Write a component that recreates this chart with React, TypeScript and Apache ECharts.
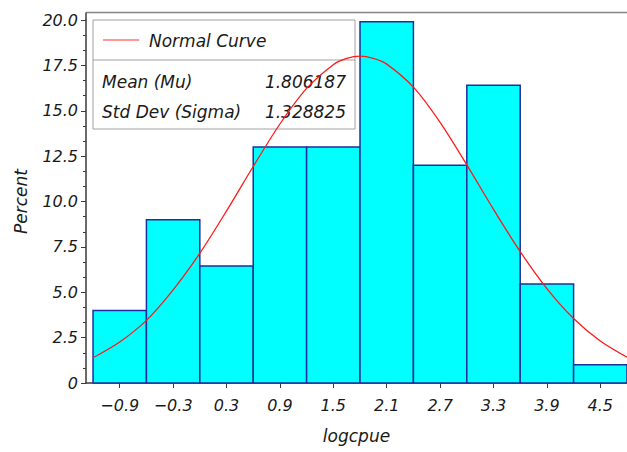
import React, { useEffect, useRef } from "react";
import * as echarts from "echarts";

// Histogram bins (midpoints) and percentages
const binMidpoints = [-0.9, -0.3, 0.3, 0.9, 1.5, 2.1, 2.7, 3.3, 3.9, 4.5];
const binPercents = [4.0, 9.0, 6.45, 13.0, 13.0, 19.9, 12.0, 16.4, 5.45, 1.0];
const binWidth = 0.6;

// Normal curve points
const curveX = [-1.2, -0.9, -0.6, -0.3, 0.0, 0.3, 0.6, 0.9, 1.2, 1.5, 1.65, 1.8, 1.95, 2.1, 2.4, 2.7, 3.0, 3.3, 3.6, 3.9, 4.2, 4.5, 4.8];
const curveY = [1.39, 2.26, 3.45, 5.13, 7.15, 9.48, 11.93, 14.27, 16.23, 17.54, 17.88, 18.01, 17.89, 17.57, 16.3, 14.36, 12.02, 9.57, 7.24, 5.2, 3.55, 2.31, 1.42];

// Tick labels
const xTickValues = [-0.9, -0.3, 0.3, 0.9, 1.5, 2.1, 2.7, 3.3, 3.9, 4.5];
const yTickValues = [0, 2.5, 5, 7.5, 10, 12.5, 15, 17.5, 20];

const legendLabel = "Normal Curve";
const statNames = ["Mean (Mu)", "Std Dev (Sigma)"];
const statValues = ["1.806187", "1.328825"];

const FONT = "DejaVu Sans";
const TEXT = "#1a1a1a";
const AXIS = "#3a3a3a";

export default function App() {
  const ref = useRef<HTMLDivElement>(null);

  useEffect(() => {
    if (!ref.current) return;
    const chart = echarts.init(ref.current, null, { renderer: "svg" });
    const half = binWidth / 2;
    const histData = binMidpoints.map((m, i) => [m, binPercents[i]]);
    const curveData = curveX.map((x, i) => [x, curveY[i]]);

    const option: any = {
      animation: false,
      backgroundColor: "#ffffff",
      grid: { left: 86, right: 0, top: 20, bottom: 69, containLabel: false },
      xAxis: {
        type: "value",
        min: -1.279,
        max: 4.8,
        name: "logcpue",
        nameLocation: "middle",
        nameGap: 44,
        nameTextStyle: { fontFamily: FONT, fontStyle: "italic", fontSize: 17, color: TEXT },
        axisLine: { show: true, onZero: false, lineStyle: { color: AXIS, width: 1.5 } },
        axisTick: { show: true, length: 5, customValues: xTickValues, lineStyle: { color: AXIS } },
        axisLabel: {
          customValues: xTickValues,
          margin: 14,
          fontFamily: FONT,
          fontStyle: "italic",
          fontSize: 16,
          color: TEXT,
          formatter: (v: number) => v.toFixed(1).replace("-", "\u2212"),
        },
        splitLine: { show: false },
      },
      yAxis: {
        type: "value",
        min: 0,
        max: 20,
        interval: 2.5,
        name: "Percent",
        nameLocation: "middle",
        nameGap: 57,
        nameTextStyle: { fontFamily: FONT, fontStyle: "italic", fontSize: 17, color: TEXT },
        axisLine: { show: true, onZero: false, lineStyle: { color: AXIS, width: 1.5 } },
        axisTick: { show: true, length: 5, lineStyle: { color: AXIS } },
        minorTick: { show: true, splitNumber: 3, length: 3, lineStyle: { color: AXIS } },
        axisLabel: {
          margin: 8,
          fontFamily: FONT,
          fontStyle: "italic",
          fontSize: 16,
          color: TEXT,
          formatter: (v: number) => (yTickValues.includes(v) ? (v === 0 ? "0" : v.toFixed(1)) : ""),
        },
        splitLine: { show: false },
      },
      series: [
        {
          type: "custom",
          data: histData,
          z: 2,
          renderItem: (params: any, api: any) => {
            const c = api.value(0);
            const v = api.value(1);
            const p0 = api.coord([c - half, v]);
            const p1 = api.coord([c + half, 0]);
            return {
              type: "rect",
              shape: { x: p0[0], y: p0[1], width: p1[0] - p0[0], height: p1[1] - p0[1] },
              style: { fill: "#00ffff", stroke: "#1f2e9e", lineWidth: 1.5 },
            };
          },
        },
        {
          type: "line",
          data: curveData,
          smooth: 0.3,
          symbol: "none",
          z: 5,
          lineStyle: { color: "#ff1a1a", width: 1.3 },
        },
      ],
      graphic: [
        { type: "line", z: 1, shape: { x1: 86, y1: 12.5, x2: 627, y2: 12.5 }, style: { stroke: "#858585", lineWidth: 1.5 } },
        { type: "line", z: 1, shape: { x1: 86, y1: 12.5, x2: 86, y2: 20 }, style: { stroke: AXIS, lineWidth: 1.5 } },
        { type: "rect", z: 1, shape: { x: 93, y: 20, width: 262, height: 109 }, style: { fill: "none", stroke: "#a0a0a0", lineWidth: 1 } },
        { type: "line", z: 1, shape: { x1: 93, y1: 60, x2: 355, y2: 60 }, style: { stroke: "#a0a0a0", lineWidth: 1 } },
        { type: "line", z: 1, shape: { x1: 103, y1: 40, x2: 139, y2: 40 }, style: { stroke: "#ff3030", lineWidth: 1.2 } },
        {
          type: "text", z: 1, x: 149, y: 41,
          style: { text: legendLabel, fontFamily: FONT, fontStyle: "italic", fontSize: 17, fill: TEXT, verticalAlign: "middle", align: "left" },
        },
        {
          type: "text", z: 1, x: 102, y: 82,
          style: { text: statNames[0], fontFamily: FONT, fontStyle: "italic", fontSize: 17, fill: TEXT, verticalAlign: "middle", align: "left" },
        },
        {
          type: "text", z: 1, x: 102, y: 112,
          style: { text: statNames[1], fontFamily: FONT, fontStyle: "italic", fontSize: 17, fill: TEXT, verticalAlign: "middle", align: "left" },
        },
        {
          type: "text", z: 1, x: 346, y: 82,
          style: { text: statValues[0], fontFamily: FONT, fontStyle: "italic", fontSize: 17, fill: TEXT, verticalAlign: "middle", align: "right" },
        },
        {
          type: "text", z: 1, x: 346, y: 112,
          style: { text: statValues[1], fontFamily: FONT, fontStyle: "italic", fontSize: 17, fill: TEXT, verticalAlign: "middle", align: "right" },
        },
      ],
    };
    chart.setOption(option);
    return () => chart.dispose();
  }, []);

  return (
    <div
      ref={ref}
      style={{ position: "fixed", left: 0, top: 0, width: 627, height: 452, background: "#fff" }}
    />
  );
}
